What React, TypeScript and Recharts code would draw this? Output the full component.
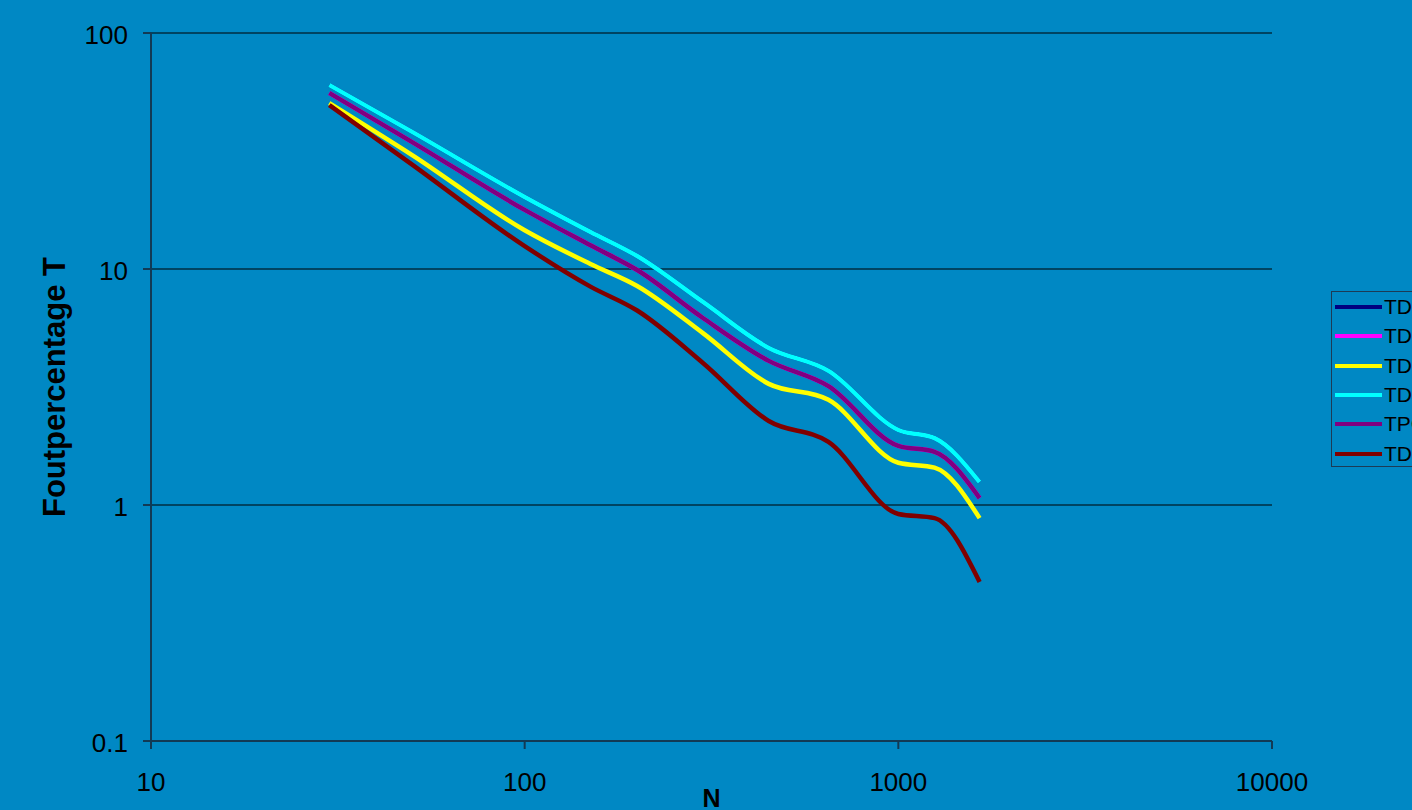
import { LineChart, Line, XAxis, YAxis, CartesianGrid } from 'recharts'

// sample sizes on the x axis
const nValues = [30, 50, 100, 150, 200, 300, 450, 650, 1000, 1250, 1650]

// foutpercentage per series
const td1 = [60.2, 38.1, 20.2, 14.35, 11.35, 7.25, 4.63, 3.7, 2.08, 1.92, 1.25]
const td2 = [55.7, 34.5, 17.8, 12.6, 9.9, 6.2, 4.08, 3.19, 1.78, 1.68, 1.07]
const td3 = [50.5, 30.4, 14.6, 10.5, 8.47, 5.35, 3.26, 2.79, 1.51, 1.44, 0.88]
const td4 = [60.2, 38.1, 20.2, 14.35, 11.35, 7.25, 4.63, 3.7, 2.08, 1.92, 1.25]
const tpc = [55.7, 34.5, 17.8, 12.6, 9.9, 6.2, 4.08, 3.19, 1.78, 1.68, 1.07]
const td5 = [49.5, 27.7, 12.5, 8.42, 6.67, 4.0, 2.27, 1.85, 0.916, 0.88, 0.472]

const xTicks = [10, 100, 1000, 10000]
const yTicks = [0.1, 1, 10, 100]

const seriesNames = ['TD1', 'TD2', 'TD3', 'TD4', 'TPC', 'TD5']
const seriesValues = [td1, td2, td3, td4, tpc, td5]
const seriesColors = ['#000080', '#ff00ff', '#ffff00', '#00ffff', '#800080', '#800000']

const data = nValues.map((n, i) => {
  const row: Record<string, number> = { n }
  seriesNames.forEach((name, s) => {
    row[name] = seriesValues[s][i]
  })
  return row
})

const font = '"Liberation Sans", Arial, sans-serif'

export default function App() {
  return (
    <div
      style={{
        position: 'fixed',
        left: 0,
        top: 0,
        width: 1412,
        height: 810,
        overflow: 'hidden',
        background: '#0088c4',
        fontFamily: font,
      }}
    >
      <LineChart
        width={1412}
        height={810}
        data={data}
        margin={{ top: 33, right: 140, bottom: 0, left: 0 }}
      >
        <CartesianGrid vertical={false} stroke="#000000" strokeWidth={1} />
        <XAxis
          dataKey="n"
          type="number"
          scale="log"
          domain={[10, 10000]}
          ticks={xTicks}
          allowDataOverflow
          height={69}
          stroke="#123a55"
          strokeWidth={2}
          tickSize={8}
          tickMargin={24}
          tick={{ fill: '#000000', fontSize: 26, fontFamily: font }}
          label={{
            value: 'N',
            position: 'insideTop',
            offset: 48,
            fill: '#000000',
            fontSize: 25,
            fontWeight: 'bold',
            fontFamily: font,
          }}
        />
        <YAxis
          type="number"
          scale="log"
          domain={[0.1, 100]}
          ticks={yTicks}
          allowDataOverflow
          width={151}
          stroke="#123a55"
          strokeWidth={2}
          tickSize={8}
          tickMargin={15}
          tick={{ fill: '#000000', fontSize: 26, fontFamily: font, dy: 2 }}
          label={{
            value: 'Foutpercentage T',
            angle: -90,
            position: 'center',
            dx: -22,
            fill: '#000000',
            fontSize: 31,
            fontWeight: 'bold',
            fontFamily: font,
          }}
        />
        {seriesNames.map((name, s) => (
          <Line
            key={name}
            type="monotone"
            dataKey={name}
            stroke={seriesColors[s]}
            strokeWidth={4.5}
            dot={false}
            activeDot={false}
            isAnimationActive={false}
          />
        ))}
      </LineChart>

      <div
        style={{
          position: 'absolute',
          left: 1331,
          top: 291,
          width: 120,
          height: 176,
          border: '1.5px solid #1c3b55',
          boxSizing: 'border-box',
        }}
      >
        {seriesNames.map((name, s) => (
          <div
            key={name}
            style={{
              position: 'absolute',
              left: 3,
              top: 15 + s * 29.3 - 12,
              height: 24,
              display: 'flex',
              alignItems: 'center',
              whiteSpace: 'nowrap',
            }}
          >
            <div style={{ width: 47, height: 4, background: seriesColors[s] }} />
            <span style={{ marginLeft: 2, fontSize: 21, color: '#000000', lineHeight: '24px' }}>
              {name}
            </span>
          </div>
        ))}
      </div>
    </div>
  )
}
